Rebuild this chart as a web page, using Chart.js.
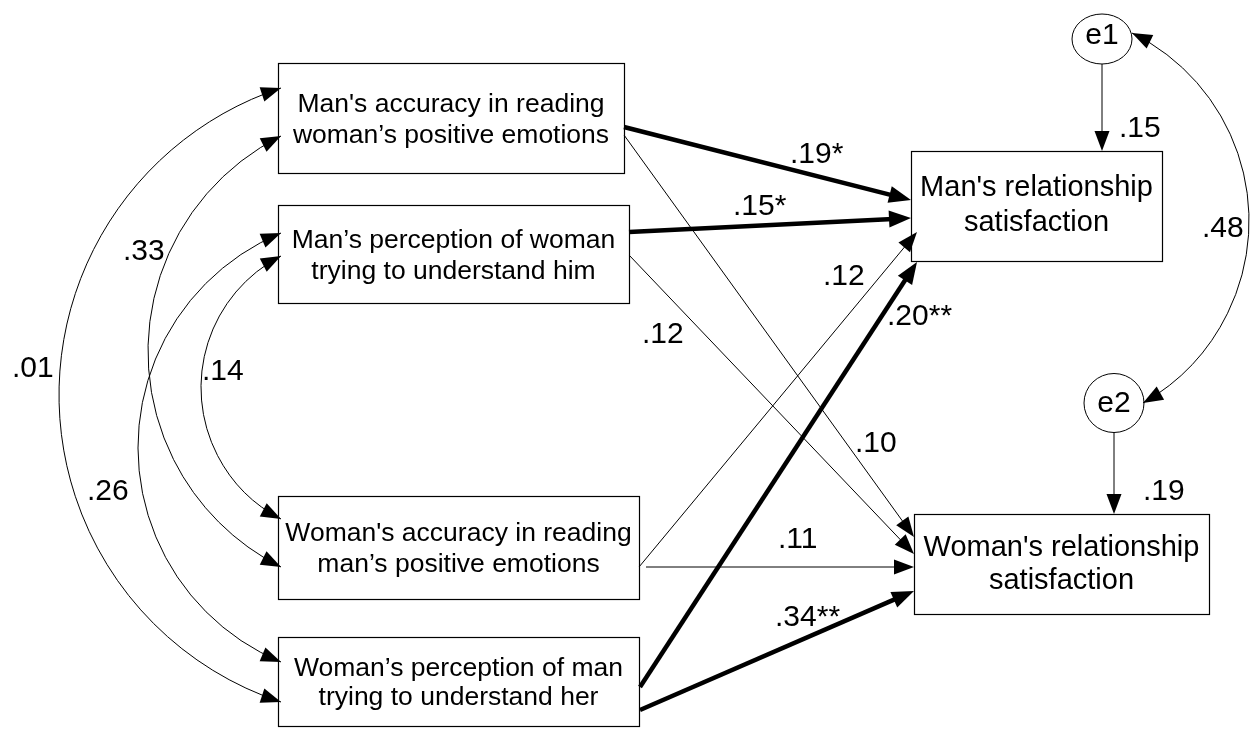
<!DOCTYPE html>
<html>
<head>
<meta charset="utf-8">
<script src="https://cdn.jsdelivr.net/npm/chart.js@4"></script>
<style>
html, body { margin: 0; padding: 0; background: #fff; }
canvas { display: block; }
</style>
</head>
<body>
<canvas id="pathChart" width="1254" height="729"></canvas>
<script>
// observed variables (box texts)
const observed = [
  ["Man's accuracy in reading", "woman’s positive emotions"],
  ["Man’s perception of woman", "trying to understand him"],
  ["Woman's accuracy in reading", "man’s positive emotions"],
  ["Woman’s perception of man", "trying to understand her"],
  ["Man's relationship", "satisfaction"],
  ["Woman's relationship", "satisfaction"]
];
const errors = ["e1", "e2"];

// path coefficients, predictor -> outcome
const pathFrom = [0, 1, 2, 3, 0, 1, 2, 3];
const pathTo = [4, 4, 4, 4, 5, 5, 5, 5];
const pathCoef = [".19*", ".15*", ".12", ".20**", ".10", ".12", ".11", ".34**"];
const pathSig = [true, true, false, true, false, false, false, true];

// covariances among predictors
const covPairs = [[0, 3], [0, 2], [1, 2], [1, 3]];
const covValues = [".01", ".33", ".14", ".26"];

// error terms
const errorLoad = [".15", ".19"];
const errorCov = ".48";

// ---- layout (chart units = pixels of the 1254x729 area) ----
const boxRect = [[278, 63, 624, 173], [278, 205, 629, 303], [278, 496, 639, 599],
  [278, 637, 639, 726], [911, 151, 1162, 261], [914, 514, 1209, 614]];
const boxFont = [26.5, 26.5, 26.5, 26.5, 29, 29];
const boxLead = [31, 31, 31, 29, 35, 33];
const boxShift = [0, 0, 0, 0, -3, -2];
// centre x, centre y, rx, ry, text baseline
const circ = [[1102, 39, 30, 25, 44], [1114, 403, 30, 29.5, 412]];

const pathStart = [[624, 127], [629, 232], [639, 567], [640, 687], [624, 135], [629, 255], [646, 567], [640, 710]];
const pathEnd = [[911, 200], [911, 218], [917, 232], [917, 262], [914, 537], [914, 554], [914, 567], [914, 591]];
const pathLabelAt = [[790, 163], [733, 215], [823, 285], [887, 325], [855, 452], [642, 343], [778, 548], [775, 626]];

// arc: start, end, leftmost point
const covArc = [[281, 88, 281, 702, 59, 395], [281, 136, 281, 567, 148, 352],
  [281, 256, 281, 519, 201, 388], [281, 233, 281, 662, 138, 447]];
const covLabelAt = [[12, 377], [123, 260], [202, 380], [87, 500]];
const errArc = [1132, 33, 1143, 403, 1249, 225];
const errLabelAt = [[1119, 137], [1143, 500], [1202, 237]];

const FONT = '"Liberation Sans", Arial, Helvetica, sans-serif';

function arrowHead(ctx, x, y, dx, dy, len, half) {
  const n = Math.hypot(dx, dy);
  dx /= n; dy /= n;
  const bx = x - dx * len, by = y - dy * len;
  ctx.beginPath();
  ctx.moveTo(x, y);
  ctx.lineTo(bx - dy * half, by + dx * half);
  ctx.lineTo(bx + dy * half, by - dx * half);
  ctx.closePath();
  ctx.fill();
}

function circleFrom3(ax, ay, bx, by, cx, cy) {
  const d = 2 * (ax * (by - cy) + bx * (cy - ay) + cx * (ay - by));
  const a2 = ax * ax + ay * ay, b2 = bx * bx + by * by, c2 = cx * cx + cy * cy;
  const ux = (a2 * (by - cy) + b2 * (cy - ay) + c2 * (ay - by)) / d;
  const uy = (a2 * (cx - bx) + b2 * (ax - cx) + c2 * (bx - ax)) / d;
  return [ux, uy, Math.hypot(ax - ux, ay - uy)];
}

// two-headed curved arrow through an apex point
function doubleArc(ctx, p1, p2, m) {
  const [ox, oy, r] = circleFrom3(p1[0], p1[1], m[0], m[1], p2[0], p2[1]);
  const a1 = Math.atan2(p1[1] - oy, p1[0] - ox);
  const a2 = Math.atan2(p2[1] - oy, p2[0] - ox);
  const am = Math.atan2(m[1] - oy, m[0] - ox);
  const TAU = Math.PI * 2;
  const nrm = a => ((a % TAU) + TAU) % TAU;
  const inc = nrm(am - a1) < nrm(a2 - a1);
  ctx.beginPath();
  ctx.arc(ox, oy, r, a1, a2, !inc);
  ctx.stroke();
  const s = inc ? 1 : -1;
  arrowHead(ctx, p2[0], p2[1], -Math.sin(a2) * s, Math.cos(a2) * s, 20, 7.5);
  arrowHead(ctx, p1[0], p1[1], Math.sin(a1) * s, -Math.cos(a1) * s, 20, 7.5);
}

const pathDiagram = {
  id: 'pathDiagram',
  afterDraw(chart) {
    const ctx = chart.ctx;
    const xs = chart.scales.x, ys = chart.scales.y;
    const P = (x, y) => [xs.getPixelForValue(x), ys.getPixelForValue(y)];
    ctx.save();
    ctx.strokeStyle = '#000';
    ctx.fillStyle = '#000';

    // boxes
    boxRect.forEach((b, i) => {
      const [x1, y1] = P(b[0], b[1]);
      const [x2, y2] = P(b[2], b[3]);
      ctx.lineWidth = 1.2;
      ctx.strokeRect(Math.round(x1) + 0.5, Math.round(y1) + 0.5, Math.round(x2 - x1), Math.round(y2 - y1));
      ctx.font = boxFont[i] + 'px ' + FONT;
      ctx.textAlign = 'center';
      ctx.textBaseline = 'alphabetic';
      const lines = observed[i];
      const cx = (x1 + x2) / 2, cy = (y1 + y2) / 2 + boxShift[i];
      lines.forEach((t, k) => {
        const by = cy + (k - (lines.length - 1) / 2) * boxLead[i] + 0.35 * boxFont[i];
        ctx.fillText(t, cx, by);
      });
    });

    // error circles and their arrows
    circ.forEach((c, i) => {
      const [cx, cy] = P(c[0], c[1]);
      ctx.lineWidth = 1;
      ctx.beginPath();
      ctx.ellipse(cx, cy, c[2], c[3], 0, 0, Math.PI * 2);
      ctx.stroke();
      ctx.font = '30px ' + FONT;
      ctx.textAlign = 'center';
      ctx.fillText(errors[i], cx, P(0, c[4])[1]);
      const target = boxRect[4 + i];
      const [, ty] = P(0, target[1]);
      ctx.beginPath();
      ctx.moveTo(cx, cy + c[3]);
      ctx.lineTo(cx, ty - 15);
      ctx.stroke();
      arrowHead(ctx, cx, ty, 0, 1, 20, 7.5);
    });

    // straight paths
    pathCoef.forEach((lab, i) => {
      const [x1, y1] = P(pathStart[i][0], pathStart[i][1]);
      const [x2, y2] = P(pathEnd[i][0], pathEnd[i][1]);
      const dx = x2 - x1, dy = y2 - y1, n = Math.hypot(dx, dy);
      const len = pathSig[i] ? 22 : 20;
      ctx.lineWidth = pathSig[i] ? 4.5 : 1;
      ctx.beginPath();
      ctx.moveTo(x1, y1);
      ctx.lineTo(x2 - dx / n * (len - 4), y2 - dy / n * (len - 4));
      ctx.stroke();
      arrowHead(ctx, x2, y2, dx, dy, len, pathSig[i] ? 8.5 : 7.5);
      ctx.font = '30px ' + FONT;
      ctx.textAlign = 'left';
      const [lx, ly] = P(pathLabelAt[i][0], pathLabelAt[i][1]);
      ctx.fillText(lab, lx, ly);
    });

    // covariance arcs
    ctx.lineWidth = 1;
    covArc.forEach((a, i) => {
      doubleArc(ctx, P(a[0], a[1]), P(a[2], a[3]), P(a[4], a[5]));
      const [lx, ly] = P(covLabelAt[i][0], covLabelAt[i][1]);
      ctx.fillText(covValues[i], lx, ly);
    });

    // error covariance
    doubleArc(ctx, P(errArc[0], errArc[1]), P(errArc[2], errArc[3]), P(errArc[4], errArc[5]));
    ctx.font = '30px ' + FONT;
    errorLoad.forEach((t, i) => {
      const [lx, ly] = P(errLabelAt[i][0], errLabelAt[i][1]);
      ctx.fillText(t, lx, ly);
    });
    const [ex, ey] = P(errLabelAt[2][0], errLabelAt[2][1]);
    ctx.fillText(errorCov, ex, ey);

    ctx.restore();
  }
};

new Chart(document.getElementById('pathChart'), {
  type: 'scatter',
  data: { datasets: [] },
  options: {
    responsive: false,
    animation: false,
    layout: { padding: 0 },
    plugins: { legend: { display: false }, tooltip: { enabled: false } },
    scales: {
      x: { type: 'linear', min: 0, max: 1254, display: false },
      y: { type: 'linear', min: 0, max: 729, reverse: true, display: false }
    }
  },
  plugins: [pathDiagram]
});
</script>
</body>
</html>
